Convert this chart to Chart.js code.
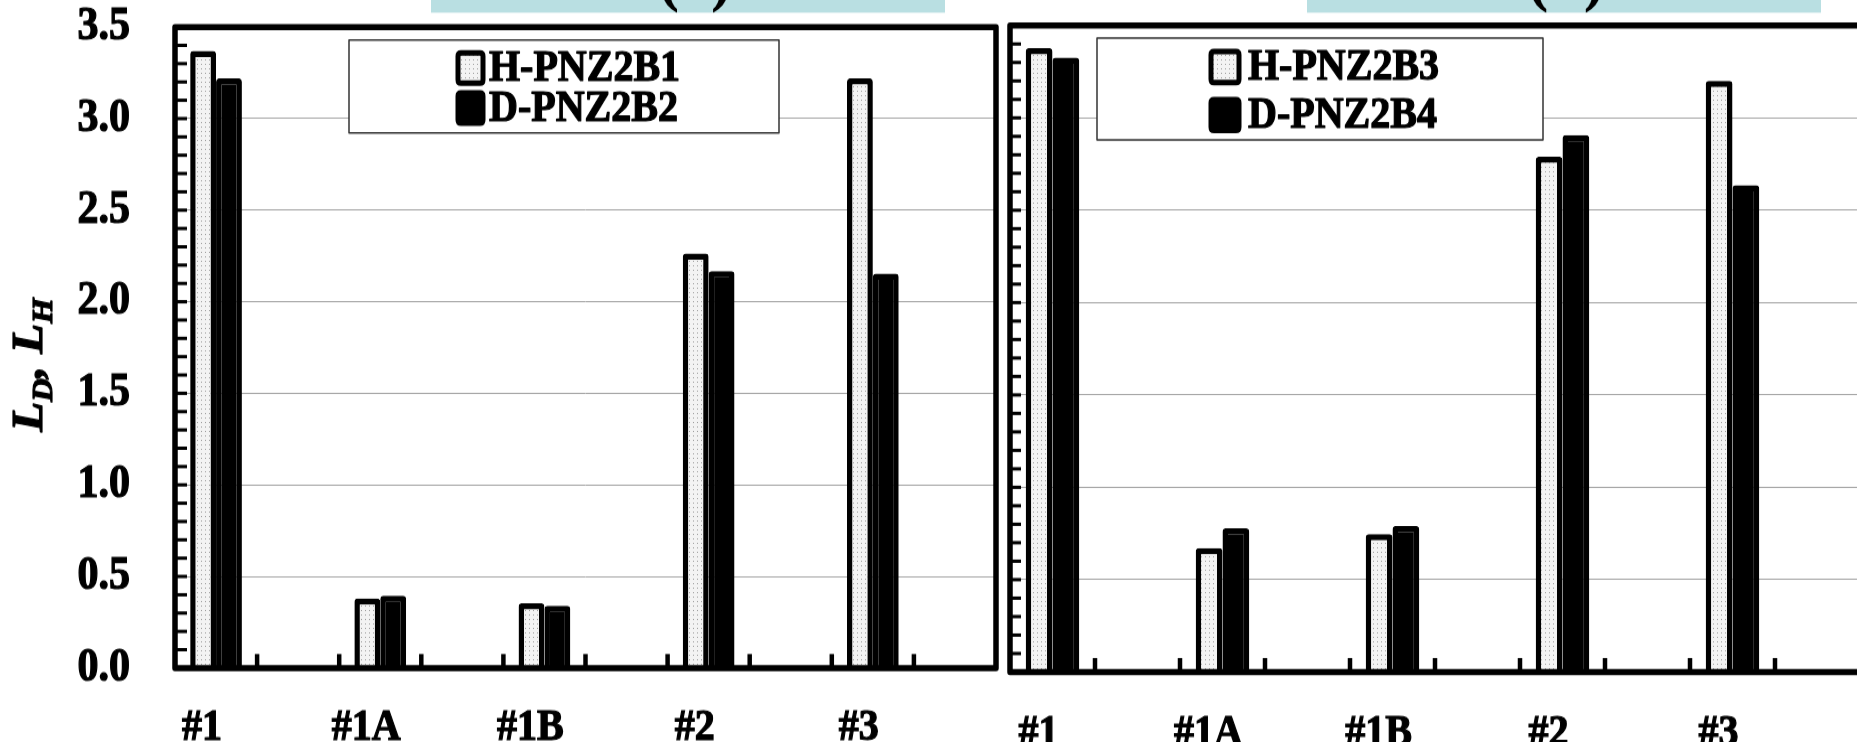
<!DOCTYPE html>
<html><head><meta charset="utf-8">
<script src="https://cdn.jsdelivr.net/npm/chart.js@4.4.0/dist/chart.umd.min.js"></script>
<style>
html,body{margin:0;padding:0;background:#fff;overflow:hidden;width:1857px;height:742px;}
#wrap{position:relative;width:1857px;height:742px;overflow:hidden;background:#fff;}
canvas{position:absolute;top:0;transform-origin:0 0;}
</style></head><body>
<div id="wrap"><canvas id="c1" width="1000" height="663"></canvas><canvas id="c2" width="860" height="663"></canvas></div>
<script>
// ---- data ----
const groups = ['#1', '#1A', '#1B', '#2', '#3'];
const leftH  = [3.37, 0.38, 0.353, 2.264, 3.22];
const leftD  = [3.22, 0.395, 0.34, 2.167, 2.154];
const rightH = [3.378, 0.67, 0.746, 2.79, 3.20];
const rightD = [3.326, 0.778, 0.791, 2.906, 2.635];
const leftNames  = ['H-PNZ2B1', 'D-PNZ2B2'];
const rightNames = ['H-PNZ2B3', 'D-PNZ2B4'];
const yTickLabels = ['0.0','0.5','1.0','1.5','2.0','2.5','3.0','3.5'];
const panelTags = ['(a)', '(b)'];

// categories: each group followed by an empty slot
const categories = groups.flatMap(g => [g, '']);
const spread = arr => arr.flatMap(v => [v, null]);

const SY = 742 / 663;          // vertical stretch of the picture
const H = 663;
const FONT = 'Liberation Serif';

function dotPattern(ctx) {
  const pc = document.createElement('canvas'); pc.width = 4; pc.height = 4;
  const p = pc.getContext('2d');
  p.fillStyle = '#f3f3f3'; p.fillRect(0, 0, 4, 4);
  p.fillStyle = '#a0a0a0'; p.fillRect(1, 1, 1, 1);
  return ctx.createPattern(pc, 'repeat');
}

function rrect(ctx, x, y, w, h, r) {
  ctx.beginPath();
  ctx.moveTo(x + r, y); ctx.lineTo(x + w - r, y); ctx.quadraticCurveTo(x + w, y, x + w, y + r);
  ctx.lineTo(x + w, y + h - r); ctx.quadraticCurveTo(x + w, y + h, x + w - r, y + h);
  ctx.lineTo(x + r, y + h); ctx.quadraticCurveTo(x, y + h, x, y + h - r);
  ctx.lineTo(x, y + r); ctx.quadraticCurveTo(x, y, x + r, y); ctx.closePath();
}

function boldText(ctx, s, x, y) {
  ctx.lineWidth = 1.2; ctx.strokeStyle = '#000'; ctx.lineJoin = 'round';
  ctx.strokeText(s, x, y); ctx.fillText(s, x, y);
}

const deco = {
  id: 'deco',
  afterDatasetsDraw(chart, args, o) {
    const ctx = chart.ctx, a = chart.chartArea, xs = chart.scales.x, ys = chart.scales.y;
    ctx.save();
    ctx.strokeStyle = '#000';
    ctx.lineCap = 'butt';
    // minor y ticks (inward)
    ctx.lineWidth = 3;
    for (let i = 0; i <= 35; i++) {
      const py = ys.getPixelForValue(i / 10);
      ctx.beginPath(); ctx.moveTo(a.left, py); ctx.lineTo(a.left + o.yTickLen, py); ctx.stroke();
    }
    // x ticks at category boundaries (inward)
    ctx.lineWidth = 4.5;
    for (let i = 1; i < categories.length; i++) {
      const px = (xs.getPixelForValue(i - 1) + xs.getPixelForValue(i)) / 2;
      ctx.beginPath(); ctx.moveTo(px, a.bottom); ctx.lineTo(px, a.bottom - o.xTickLen); ctx.stroke();
    }
    // frame
    ctx.lineWidth = 5.5; ctx.lineJoin = 'round';
    ctx.strokeRect(a.left, a.top, a.right - a.left, a.bottom - a.top);

    // legend box
    const L = o.legend;
    ctx.fillStyle = '#fff';
    ctx.fillRect(L.x0, L.y0 / SY, L.x1 - L.x0, (L.y1 - L.y0) / SY);
    ctx.lineWidth = 1.5; ctx.strokeStyle = '#333';
    ctx.strokeRect(L.x0, L.y0 / SY, L.x1 - L.x0, (L.y1 - L.y0) / SY);
    const ds = chart.data.datasets;
    ctx.font = 'bold 40px "' + FONT + '"';
    ctx.textBaseline = 'middle'; ctx.textAlign = 'left';
    L.rows.forEach((ry, k) => {
      const cy = ry / SY, mh = L.mh / SY;
      rrect(ctx, L.mx, cy - mh / 2, L.mw, mh, 3);
      ctx.fillStyle = ds[k].backgroundColor; ctx.fill();
      ctx.lineWidth = 5; ctx.strokeStyle = '#000'; ctx.stroke();
      ctx.fillStyle = '#000';
      boldText(ctx, ds[k].label, L.tx, cy + 1);
    });

    // cyan header strip (cut off at top)
    const C = o.cyan;
    ctx.save();
    ctx.beginPath(); ctx.rect(C.x0, 0, C.x1 - C.x0, C.y1 / SY); ctx.clip();
    ctx.fillStyle = '#b9dfe2'; ctx.fillRect(C.x0, 0, C.x1 - C.x0, C.y1 / SY);
    ctx.fillStyle = '#000'; ctx.font = 'bold 64px "' + FONT + '"';
    ctx.textAlign = 'center'; ctx.textBaseline = 'alphabetic';
    ctx.fillText(C.text, C.cx, -2);
    ctx.restore();

    // rotated y-axis title L_D, L_H
    if (o.title) {
      ctx.save();
      ctx.translate(o.title.x, o.title.y / SY);
      ctx.rotate(-Math.PI / 2);
      const big = 'bold italic 44px "' + FONT + '"', small = 'bold italic 29px "' + FONT + '"';
      const parts = [['L', big, 0], ['D', small, 10], [', ', big, 0], ['L', big, 0], ['H', small, 10]];
      let w = 0;
      parts.forEach(p => { ctx.font = p[1]; w += ctx.measureText(p[0]).width; });
      let cx = -w / 2;
      ctx.fillStyle = '#000'; ctx.textAlign = 'left'; ctx.textBaseline = 'alphabetic';
      parts.forEach(p => { ctx.font = p[1]; boldText(ctx, p[0], cx, p[2]); cx += ctx.measureText(p[0]).width; });
      ctx.restore();
    }
    ctx.restore();
  }
};

function makeChart(id, cfg) {
  const canvas = document.getElementById(id);
  canvas.style.left = cfg.left + 'px';
  canvas.style.transform = 'scaleY(' + SY + ')';
  const ctx = canvas.getContext('2d');
  const pat = dotPattern(ctx);
  return new Chart(ctx, {
    type: 'bar',
    data: {
      labels: categories,
      datasets: [
        { label: cfg.names[0], data: spread(cfg.h), backgroundColor: pat, borderColor: '#000', borderWidth: 5.5, borderRadius: 3 },
        { label: cfg.names[1], data: spread(cfg.d), backgroundColor: '#000', borderColor: '#000', borderWidth: 5.5, borderRadius: 3 }
      ]
    },
    options: {
      responsive: false, animation: false, devicePixelRatio: 1,
      layout: { padding: { left: 0, right: canvas.width - cfg.areaRight, top: cfg.top / SY, bottom: 0 } },
      datasets: { bar: { categoryPercentage: 0.63, barPercentage: 1.0 } },
      plugins: { legend: { display: false }, tooltip: { enabled: false }, deco: cfg.deco },
      scales: {
        x: {
          grid: { display: false }, border: { display: false },
          ticks: { color: '#000', font: { family: FONT, size: 40, weight: 'bold' }, autoSkip: false,
                   textStrokeColor: '#000', textStrokeWidth: 1.2,
                   maxRotation: 0, minRotation: 0, padding: cfg.xPad, labelOffset: -14 },
          afterFit: s => { s.height = H - cfg.bottom / SY; s.paddingLeft = 0; s.paddingRight = 0; }
        },
        y: {
          min: 0, max: 3.5,
          grid: { color: '#a3a3a3', lineWidth: 1, drawTicks: false }, border: { display: false },
          ticks: { display: cfg.showY, stepSize: 0.5, color: '#000', padding: 45,
                   textStrokeColor: '#000', textStrokeWidth: 1.2,
                   font: { family: FONT, size: 42, weight: 'bold' },
                   callback: (v, i) => yTickLabels[i] },
          afterFit: s => { s.width = cfg.areaLeft; s.paddingTop = 0; s.paddingBottom = 0; }
        }
      }
    },
    plugins: [deco]
  });
}

makeChart('c1', {
  left: 0, areaLeft: 175, areaRight: 996, top: 27, bottom: 668, xPad: 22, showY: true,
  h: leftH, d: leftD, names: leftNames,
  deco: {
    yTickLen: 12, xTickLen: 12.5,
    legend: { x0: 349, x1: 779, y0: 40, y1: 133, mx: 458, mw: 25, mh: 30, tx: 489, rows: [68, 108] },
    cyan: { x0: 431, x1: 945, y1: 13, cx: 695, text: panelTags[0] },
    title: { x: 42, y: 365 }
  }
});

makeChart('c2', {
  left: 1000, areaLeft: 10, areaRight: 860, top: 25.5, bottom: 672, xPad: 23, showY: false,
  h: rightH, d: rightD, names: rightNames,
  deco: {
    yTickLen: 11, xTickLen: 12.5,
    legend: { x0: 97, x1: 543, y0: 38, y1: 140, mx: 211, mw: 28, mh: 31, tx: 248, rows: [67, 115] },
    cyan: { x0: 307, x1: 821, y1: 13, cx: 566, text: panelTags[1] },
    title: null
  }
});
</script>
</body></html>
